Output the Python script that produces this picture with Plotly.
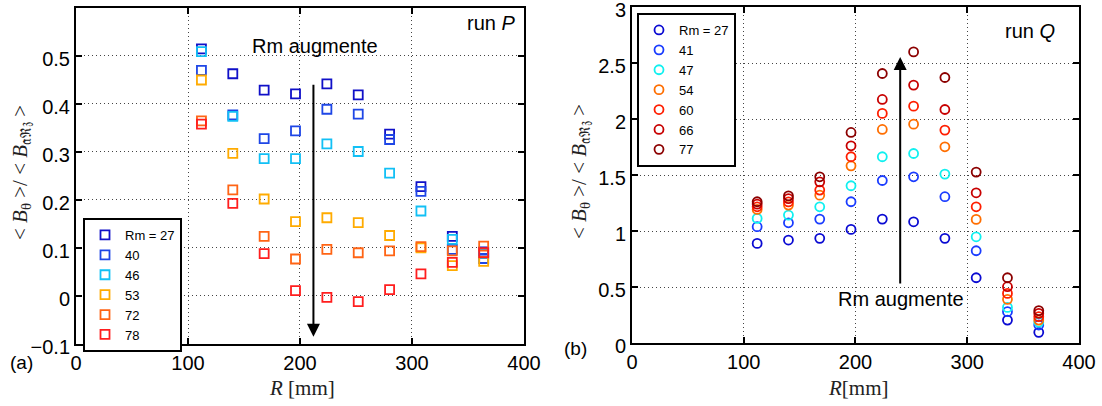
import plotly.graph_objects as go

# ---------------- data ----------------
R_mm = [112, 140, 168, 196, 224, 252, 280, 308, 336, 364]

# run P (left panel)
P_names = ["Rm = 27", "40", "46", "53", "72", "78"]
P_27 = [0.515, 0.463, 0.429, 0.421, 0.442, 0.419, 0.337, 0.228, 0.124, 0.092]
P_40 = [0.470, 0.377, 0.328, 0.344, 0.389, 0.379, 0.326, 0.218, 0.097, 0.078]
P_46 = [0.509, 0.374, 0.286, 0.286, 0.317, 0.301, 0.256, 0.177, 0.118, 0.088]
P_53 = [0.450, 0.297, 0.202, 0.155, 0.163, 0.153, 0.126, 0.100, 0.063, 0.072]
P_72 = [0.365, 0.221, 0.124, 0.077, 0.097, 0.090, 0.094, 0.103, 0.094, 0.104]
P_78 = [0.358, 0.193, 0.088, 0.011, -0.003, -0.012, 0.013, 0.046, 0.070, 0.090]
P_colors = ["#1010c8", "#1e46e6", "#12c0f5", "#ffab00", "#ff6414", "#ff1e1e"]

# run Q (right panel)
Q_names = ["Rm = 27", "41", "47", "54", "60", "66", "77"]
Q_27 = [0.890, 0.920, 0.935, 1.015, 1.107, 1.083, 0.935, 0.583, 0.205, 0.095]
Q_41 = [1.039, 1.074, 1.107, 1.262, 1.452, 1.485, 1.307, 0.824, 0.280, 0.161]
Q_47 = [1.113, 1.143, 1.217, 1.405, 1.664, 1.693, 1.509, 0.949, 0.318, 0.185]
Q_54 = [1.193, 1.232, 1.321, 1.583, 1.908, 1.955, 1.753, 1.104, 0.390, 0.205]
Q_60 = [1.217, 1.260, 1.366, 1.664, 2.051, 2.116, 1.902, 1.217, 0.443, 0.235]
Q_66 = [1.241, 1.290, 1.440, 1.762, 2.176, 2.304, 2.086, 1.342, 0.503, 0.265]
Q_77 = [1.262, 1.315, 1.485, 1.881, 2.408, 2.601, 2.372, 1.527, 0.583, 0.289]
Q_colors = ["#0a0ad2", "#1a3cff", "#10f0f0", "#ff6e00", "#ff1e00", "#c80000", "#8c0000"]

x_ticks = [0, 100, 200, 300, 400]
yP_ticks = [-0.1, 0, 0.1, 0.2, 0.3, 0.4, 0.5]
yQ_ticks = [0, 0.5, 1, 1.5, 2, 2.5, 3]

# ---------------- figure ----------------
W, H = 1102, 406
fig = go.Figure()

for name, ys, col in zip(P_names, [P_27, P_40, P_46, P_53, P_72, P_78], P_colors):
    fig.add_trace(go.Scatter(
        x=R_mm, y=ys, mode="markers", name=name, legend="legend",
        marker=dict(symbol="square-open", size=9, color=col, line=dict(width=1.8, color=col)),
        xaxis="x", yaxis="y"))

for name, ys, col in zip(Q_names, [Q_27, Q_41, Q_47, Q_54, Q_60, Q_66, Q_77], Q_colors):
    fig.add_trace(go.Scatter(
        x=R_mm, y=ys, mode="markers", name=name, legend="legend2",
        marker=dict(symbol="circle-open", size=9, color=col, line=dict(width=1.8, color=col)),
        xaxis="x2", yaxis="y2"))

sans = "Liberation Sans, Arial, sans-serif"
serif = "Liberation Serif, DejaVu Serif, serif"

def px_x(p):
    return min(1.0, max(0.0, p / W))

def px_y(p):
    return min(1.0, max(0.0, 1 - p / H))

axis_common = dict(
    showline=True, linecolor="black", linewidth=2, mirror="ticks",
    ticks="inside", ticklen=6, tickwidth=1.5, tickcolor="black",
    showgrid=True, gridcolor="#444", griddash="1px,3px", gridwidth=1,
    zeroline=False, automargin=False, ticklabeloverflow="allow",
    tickfont=dict(family=sans, size=20, color="black"),
)

legend_common = dict(
    xanchor="left", yanchor="top",
    bgcolor="white", bordercolor="black", borderwidth=2,
    font=dict(family=sans, size=13, color="black"),
    itemwidth=30, tracegroupgap=0,
)

fig.update_layout(
    width=W, height=H,
    margin=dict(l=0, r=0, t=0, b=0, autoexpand=False),
    paper_bgcolor="white", plot_bgcolor="white",
    xaxis=dict(domain=[px_x(76), px_x(524)], range=[0, 400.01], tickvals=x_ticks,
               anchor="y", **axis_common),
    yaxis=dict(domain=[px_y(344), px_y(8)], range=[-0.1001, 0.6], tickvals=yP_ticks,
               ticktext=["\u22120.1", "0", "0.1", "0.2", "0.3", "0.4", "0.5"],
               anchor="x", ticklabelshift=3, **axis_common),
    xaxis2=dict(domain=[px_x(632), px_x(1079)], range=[0, 400.01], tickvals=x_ticks,
                anchor="y2", **axis_common),
    yaxis2=dict(domain=[px_y(343), px_y(7)], range=[0, 3.002], tickvals=yQ_ticks,
                ticktext=["0", "0.5", "1", "1.5", "2", "2.5", "3"],
                anchor="x2", ticklabelshift=3, **axis_common),
    legend=dict(x=px_x(83), y=px_y(218), **legend_common),
    legend2=dict(x=px_x(637), y=px_y(13), **legend_common),
    showlegend=True,
)

annotations = [
    # arrows
    dict(x=212, y=-0.085, ax=212, ay=0.443, xref="x", yref="y", axref="x", ayref="y",
         text="", showarrow=True, arrowhead=2, arrowsize=1.3, arrowwidth=2, arrowcolor="black"),
    dict(x=240, y=2.556, ax=240, ay=0.518, xref="x2", yref="y2", axref="x2", ayref="y2",
         text="", showarrow=True, arrowhead=2, arrowsize=1.3, arrowwidth=2, arrowcolor="black"),
    # arrow texts
    dict(x=px_x(315), y=px_y(46), xref="paper", yref="paper", text="Rm augmente",
         showarrow=False, font=dict(family=sans, size=20, color="black"),
         xanchor="center", yanchor="middle"),
    dict(x=px_x(901), y=px_y(299), xref="paper", yref="paper", text="Rm augmente",
         showarrow=False, font=dict(family=sans, size=20, color="black"),
         xanchor="center", yanchor="middle"),
    # run labels
    dict(x=px_x(517), y=px_y(23), xref="paper", yref="paper", text="run <i>P</i>",
         showarrow=False, font=dict(family=sans, size=20, color="black"),
         xanchor="right", yanchor="middle"),
    dict(x=px_x(1057), y=px_y(31), xref="paper", yref="paper", text="run <i>Q</i>",
         showarrow=False, font=dict(family=sans, size=20, color="black"),
         xanchor="right", yanchor="middle"),
    # panel labels
    dict(x=px_x(21), y=px_y(362), xref="paper", yref="paper", text="(a)",
         showarrow=False, font=dict(family=sans, size=19, color="black"),
         xanchor="center", yanchor="middle"),
    dict(x=px_x(575), y=px_y(348), xref="paper", yref="paper", text="(b)",
         showarrow=False, font=dict(family=sans, size=19, color="black"),
         xanchor="center", yanchor="middle"),
    # axis titles
    dict(x=px_x(302), y=px_y(388), xref="paper", yref="paper", text="<i>R</i> [mm]",
         showarrow=False, font=dict(family=serif, size=21, color="#222"),
         xanchor="center", yanchor="middle"),
    dict(x=px_x(858), y=px_y(388), xref="paper", yref="paper", text="<i>R</i>[mm]",
         showarrow=False, font=dict(family=serif, size=21, color="#222"),
         xanchor="center", yanchor="middle"),
    dict(x=px_x(21), y=px_y(173), xref="paper", yref="paper",
         text="&lt; <i>B</i><sub>θ</sub> &gt;/ &lt; <i>B</i><sub>𝔞ℜ𝔷</sub> &gt;",
         textangle=-90, showarrow=False, font=dict(family=serif, size=21, color="#222"),
         xanchor="center", yanchor="middle"),
    dict(x=px_x(580), y=px_y(172), xref="paper", yref="paper",
         text="&lt; <i>B</i><sub>θ</sub> &gt;/ &lt; <i>B</i><sub>𝔞ℜ𝔷</sub> &gt;",
         textangle=-90, showarrow=False, font=dict(family=serif, size=21, color="#222"),
         xanchor="center", yanchor="middle"),
]
fig.update_layout(annotations=annotations)

# remove the default 8px page margin so the figure sits at the window's corner
fig.write_html("out.html", config={"displayModeBar": False},
               post_script="document.body.style.margin='0';")
